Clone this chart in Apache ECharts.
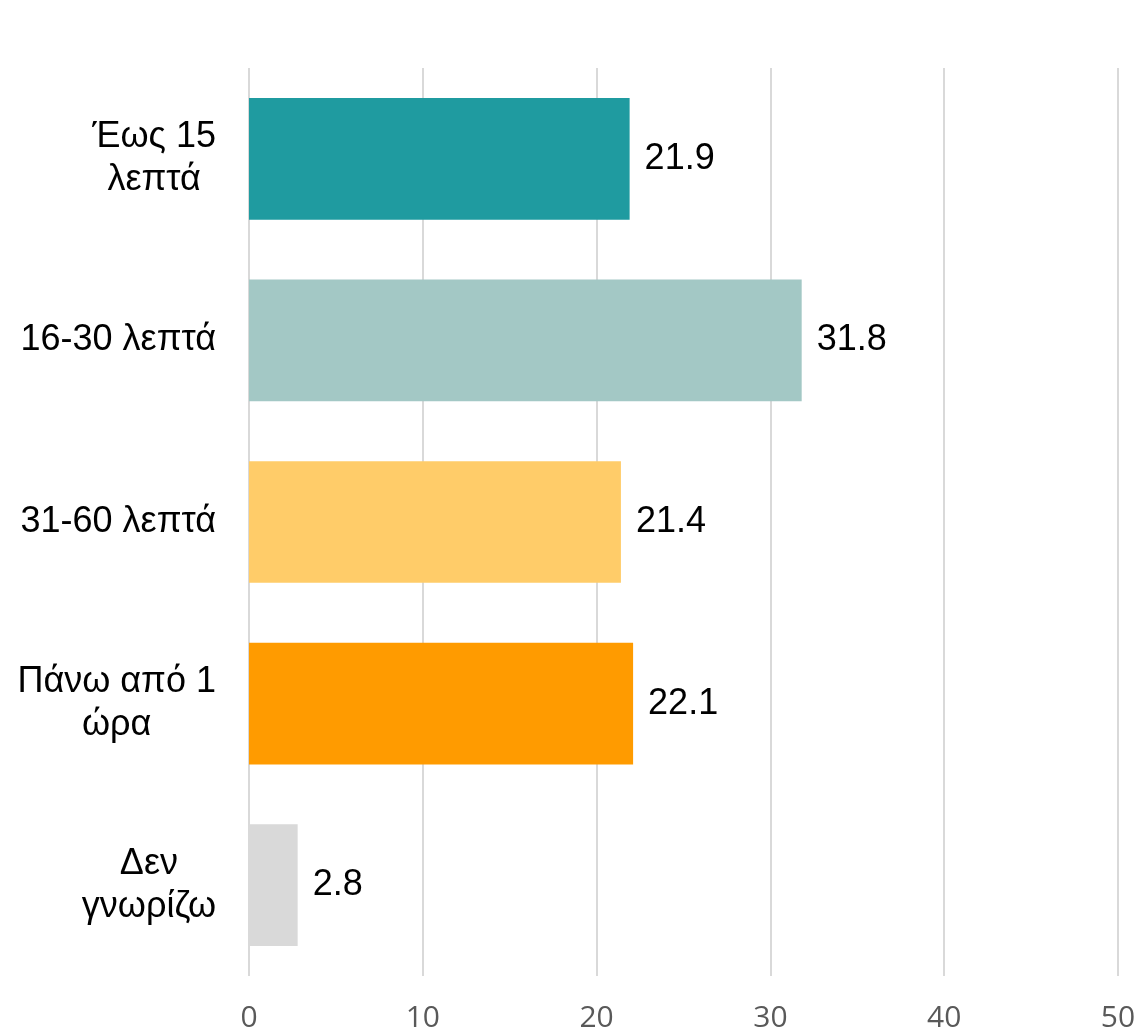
<!DOCTYPE html>
<html>
<head>
<meta charset="utf-8">
<script src="https://cdn.jsdelivr.net/npm/echarts@6/dist/echarts.min.js"></script>
<style>
  html, body { margin: 0; padding: 0; background: #fff; }
  #chart { width: 1138px; height: 1031px; }
</style>
</head>
<body>
<div id="chart"></div>
<script>
// categories, top to bottom
const categories = ['Έως 15\nλεπτά', '16-30 λεπτά', '31-60 λεπτά', 'Πάνω από 1\nώρα', 'Δεν\nγνωρίζω'];
const values = [21.9, 31.8, 21.4, 22.1, 2.8];
const barColors = ['#1f9ba0', '#a3c8c5', '#ffcc69', '#ff9b00', '#d9d9d9'];
const xTicks = [0, 10, 20, 30, 40, 50];

const chart = echarts.init(document.getElementById('chart'), null, { renderer: 'canvas' });

const option = {
  animation: false,
  grid: { left: 249, right: 20, top: 68, bottom: 55, outerBoundsMode: 'none', containLabel: false },
  xAxis: {
    type: 'value',
    min: xTicks[0],
    max: xTicks[xTicks.length - 1],
    interval: 10,
    axisLine: { show: false },
    axisTick: { show: false },
    splitLine: { lineStyle: { color: '#d9d9d9', width: 2 } },
    axisLabel: {
      margin: 27,
      fontFamily: 'Open Sans',
      fontSize: 30,
      color: '#595959'
    }
  },
  yAxis: {
    type: 'category',
    inverse: true,
    data: categories,
    axisLine: { show: false },
    axisTick: { show: false },
    axisLabel: {
      margin: 33,
      fontFamily: 'Liberation Sans',
      fontSize: 36,
      color: '#000',
      lineHeight: 43,
      formatter: (v) => v.split('\n').map(s => '{c|' + s + '}').join('\n'),
      rich: {
        c: { align: 'center', fontFamily: 'Liberation Sans', fontSize: 36, lineHeight: 43, color: '#000' }
      }
    }
  },
  series: [{
    type: 'bar',
    barWidth: '67%',
    data: values.map((v, i) => ({ value: v, itemStyle: { color: barColors[i] } })),
    label: {
      show: true,
      position: 'right',
      distance: 15,
      fontFamily: 'Liberation Sans',
      fontSize: 36,
      color: '#000',
      formatter: (p) => p.value.toFixed(1)
    }
  }]
};

chart.setOption(option);
window.addEventListener('resize', () => chart.resize());
</script>
</body>
</html>
